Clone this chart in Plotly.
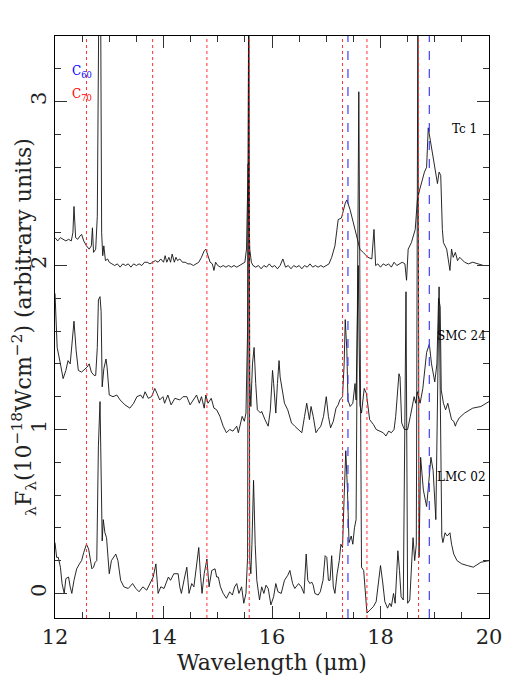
import plotly.graph_objects as go

# Tc 1 spectrum (offset +2)
tc1_wave = [12.0, 12.05, 12.1, 12.15, 12.2, 12.25, 12.3, 12.33, 12.35, 12.38, 12.42, 12.46, 12.49, 12.53,
            12.58, 12.63, 12.67, 12.69, 12.71, 12.75, 12.78, 12.81, 12.84, 12.86, 12.88, 12.9, 12.93, 12.97,
            13.0, 13.05, 13.1, 13.15, 13.2, 13.25, 13.3, 13.35, 13.4, 13.45, 13.5, 13.55, 13.6, 13.65, 13.7,
            13.75, 13.8, 13.85, 13.9, 13.95, 14.0, 14.03, 14.06, 14.1, 14.13, 14.16, 14.2, 14.23, 14.26, 14.3,
            14.35, 14.4, 14.45, 14.5, 14.55, 14.6, 14.65, 14.7, 14.75, 14.78, 14.82, 14.86, 14.9, 14.93, 14.96,
            15.0, 15.05, 15.1, 15.15, 15.2, 15.25, 15.3, 15.35, 15.4, 15.45, 15.5, 15.53, 15.56, 15.59, 15.62,
            15.65, 15.7, 15.75, 15.8, 15.85, 15.9, 15.95, 16.0, 16.05, 16.1, 16.15, 16.2, 16.25, 16.3, 16.35,
            16.4, 16.45, 16.5, 16.55, 16.6, 16.65, 16.7, 16.75, 16.8, 16.85, 16.9, 16.95, 17.0, 17.05, 17.1,
            17.16, 17.22, 17.28, 17.35, 17.38, 17.44, 17.5, 17.56, 17.62, 17.68, 17.77, 17.84, 17.88, 17.91,
            17.95, 18.0, 18.05, 18.1, 18.15, 18.2, 18.25, 18.3, 18.35, 18.4, 18.45, 18.48, 18.51, 18.57, 18.64,
            18.68, 18.72, 18.77, 18.81, 18.85, 18.88, 18.92, 18.97, 19.01, 19.05, 19.08, 19.11, 19.14, 19.16,
            19.22, 19.28, 19.31, 19.34, 19.38, 19.42, 19.46, 19.55, 19.62, 19.7, 19.8, 19.9, 20.0]
tc1_flux = [2.17, 2.15, 2.17, 2.16, 2.15, 2.16, 2.15, 2.2, 2.36, 2.17, 2.16, 2.18, 2.19, 2.15,
            2.12, 2.10, 2.12, 2.23, 2.08, 2.10, 2.3, 3.7, 3.7, 2.2, 2.06, 2.12, 2.03, 2.04,
            2.02, 2.01, 2.00, 2.01, 1.99, 2.01, 2.0, 2.01, 1.99, 2.01, 2.0, 2.01, 2.0, 2.02, 2.02,
            2.01, 2.02, 2.03, 2.02, 2.04, 2.02, 2.06, 2.02, 2.05, 2.02, 2.07, 2.02, 2.05, 2.03, 2.04,
            2.02, 2.02, 2.01, 2.01, 2.0, 2.01, 2.02, 2.05, 2.09, 2.10, 2.06, 2.02, 2.01, 1.97, 2.02,
            2.0, 1.99, 2.0, 1.99, 2.0, 1.99, 2.0, 1.99, 2.0, 2.01, 2.02, 2.1, 2.62, 2.1, 2.02,
            2.0, 1.99, 2.0, 1.98, 2.0, 1.99, 2.01, 1.99, 2.0, 1.98, 2.0, 2.04, 1.99, 2.0, 1.98,
            2.0, 1.99, 2.0, 1.98, 2.0, 1.99, 2.01, 1.99, 2.0, 1.99, 2.0, 1.99, 2.0, 2.01, 2.05,
            2.12, 2.28, 2.29, 2.38, 2.40, 2.34, 2.26, 2.18, 2.10, 2.08, 2.05, 2.04, 2.22, 2.0,
            2.01, 1.99, 2.01, 2.0, 2.01, 1.99, 2.02, 2.0, 2.01, 2.02, 2.01, 1.91, 2.10, 2.14, 2.22,
            2.40, 2.46, 2.52, 2.57, 2.60, 2.84, 2.76, 2.66, 2.58, 2.50, 2.57, 2.55, 2.22, 2.14,
            2.10, 1.97, 2.10, 2.05, 2.08, 2.03, 2.05, 2.02, 2.01, 2.02, 2.01, 2.0, 2.0]

# SMC 24 spectrum (offset +1)
smc24_wave = [12.0, 12.02, 12.04, 12.1, 12.15, 12.2, 12.24, 12.28, 12.33, 12.35, 12.39, 12.43, 12.49, 12.55,
              12.59, 12.63, 12.67, 12.72, 12.75, 12.78, 12.8, 12.83, 12.85, 12.87, 12.9, 12.94, 12.96, 13.0,
              13.07, 13.14, 13.2, 13.29, 13.38, 13.45, 13.51, 13.58, 13.62, 13.66, 13.72, 13.78, 13.84, 13.88,
              13.93, 13.99, 14.02, 14.08, 14.14, 14.21, 14.3, 14.36, 14.43, 14.49, 14.58, 14.61, 14.66, 14.7,
              14.75, 14.78, 14.82, 14.88, 14.93, 14.98, 15.04, 15.1, 15.16, 15.22, 15.28, 15.35, 15.38, 15.41,
              15.45, 15.49, 15.52, 15.55, 15.57, 15.59, 15.61, 15.64, 15.67, 15.7, 15.73, 15.79, 15.81, 15.87,
              15.93, 15.97, 16.01, 16.03, 16.07, 16.1, 16.13, 16.15, 16.2, 16.23, 16.29, 16.32, 16.36, 16.42,
              16.48, 16.55, 16.6, 16.64, 16.69, 16.72, 16.76, 16.81, 16.85, 16.9, 16.95, 17.0, 17.04, 17.08,
              17.13, 17.18, 17.22, 17.25, 17.3, 17.33, 17.35, 17.38, 17.4, 17.44, 17.49, 17.53, 17.55, 17.59,
              17.62, 17.65, 17.7, 17.74, 17.8, 17.87, 17.92, 18.0, 18.05, 18.1, 18.15, 18.2, 18.25, 18.28,
              18.31, 18.34, 18.36, 18.39, 18.44, 18.5, 18.55, 18.62, 18.65, 18.68, 18.73, 18.78, 18.85, 18.9,
              18.94, 18.97, 19.0, 19.04, 19.07, 19.1, 19.12, 19.16, 19.2, 19.24, 19.28, 19.31, 19.35, 19.38,
              19.4, 19.45, 19.55, 19.7, 19.85, 20.0]
smc24_flux = [1.83, 1.65, 1.50, 1.40, 1.31, 1.36, 1.42, 1.40, 1.59, 1.66, 1.48, 1.36, 1.35, 1.37,
              1.38, 1.40, 1.35, 1.33, 1.33, 1.5, 1.79, 1.81, 1.72, 1.26, 1.37, 1.43, 1.38, 1.21,
              1.20, 1.21, 1.18, 1.15, 1.13, 1.16, 1.20, 1.21, 1.19, 1.23, 1.19, 1.20, 1.25, 1.22,
              1.18, 1.20, 1.16, 1.21, 1.15, 1.19, 1.18, 1.20, 1.20, 1.15, 1.19, 1.21, 1.16, 1.20,
              1.13, 1.21, 1.16, 1.19, 1.13, 1.12, 1.08, 1.02, 0.98, 1.00, 0.99, 1.02, 0.98, 1.03,
              1.08, 1.05, 1.10, 1.6, 3.7, 1.3, 1.14, 1.40, 1.50, 1.28, 1.12, 1.10, 1.11, 1.06,
              1.02, 1.12, 1.36, 1.28, 1.10, 1.28, 1.42, 1.32, 1.20, 1.16, 1.12, 1.08, 1.04, 1.02,
              1.00, 0.98, 1.08, 1.16, 1.06, 1.14, 1.08, 0.98, 1.00, 1.02, 1.08, 1.20, 1.08, 1.01,
              1.05, 1.13, 1.15, 1.18, 1.20, 1.40, 1.67, 1.48, 1.18, 1.14, 1.16, 1.28, 1.18, 2.0,
              1.15, 1.10, 1.25, 1.22, 1.06, 1.03, 1.00, 0.99, 0.98, 0.96, 0.99, 0.98, 1.00, 1.08,
              1.20, 1.34, 1.32, 1.04, 1.00, 1.0, 1.08, 1.20, 1.16, 1.23, 1.16, 1.25, 1.47, 1.52,
              1.40, 1.33, 1.29, 1.40, 1.80, 1.75, 1.24, 1.16, 1.12, 1.16, 1.10, 1.06, 1.05, 1.02,
              1.04, 1.07, 1.10, 1.13, 1.14, 1.17]

# LMC 02 spectrum
lmc02_wave = [12.0, 12.03, 12.06, 12.1, 12.13, 12.17, 12.2, 12.25, 12.28, 12.31, 12.35, 12.4, 12.45, 12.49,
              12.53, 12.58, 12.62, 12.68, 12.71, 12.74, 12.77, 12.8, 12.83, 12.85, 12.87, 12.89, 12.92, 12.95,
              13.0, 13.04, 13.08, 13.12, 13.16, 13.21, 13.27, 13.35, 13.43, 13.49, 13.55, 13.62, 13.69, 13.75,
              13.81, 13.86, 13.9, 13.95, 14.01, 14.09, 14.13, 14.19, 14.27, 14.3, 14.33, 14.39, 14.43, 14.47,
              14.52, 14.56, 14.61, 14.65, 14.68, 14.71, 14.75, 14.8, 14.84, 14.89, 14.95, 14.98, 15.01, 15.05,
              15.1, 15.16, 15.22, 15.27, 15.31, 15.35, 15.39, 15.44, 15.48, 15.52, 15.55, 15.57, 15.59, 15.61,
              15.63, 15.66, 15.69, 15.72, 15.77, 15.81, 15.85, 15.89, 15.93, 15.98, 16.03, 16.07, 16.11, 16.17,
              16.23, 16.29, 16.33, 16.38, 16.42, 16.49, 16.54, 16.59, 16.63, 16.66, 16.7, 16.73, 16.76, 16.79,
              16.85, 16.89, 16.94, 16.98, 17.01, 17.04, 17.07, 17.1, 17.13, 17.16, 17.2, 17.24, 17.27, 17.3,
              17.33, 17.36, 17.39, 17.42, 17.46, 17.49, 17.52, 17.55, 17.6, 17.65, 17.69, 17.75, 17.81, 17.87,
              17.92, 17.96, 18.0, 18.04, 18.08, 18.13, 18.17, 18.2, 18.24, 18.27, 18.32, 18.35, 18.38, 18.42,
              18.47, 18.5, 18.54, 18.58, 18.6, 18.63, 18.66, 18.69, 18.71, 18.74, 18.79, 18.85, 18.9, 18.93,
              18.97, 19.02, 19.08, 19.13, 19.15, 19.19, 19.23, 19.28, 19.31, 19.35, 19.41, 19.5, 19.6, 19.71,
              19.85, 20.0]
lmc02_flux = [0.31, 0.22, 0.22, 0.16, 0.06, 0.0, 0.09, 0.10, 0.04, 0.0, 0.08, 0.15, 0.18, 0.20,
              0.25, 0.30, 0.27, 0.15, 0.16, 0.19, 0.2, 0.9, 1.17, 0.6, 0.32, 0.45, 0.37, 0.34,
              0.12, 0.20, 0.22, 0.24, 0.20, 0.08, 0.04, 0.03, 0.06, 0.03, 0.01, 0.04, 0.02, 0.06,
              0.10, 0.18, 0.0, 0.04, 0.03, 0.10, 0.08, 0.12, 0.12, 0.04, 0.0, 0.10, 0.16, 0.0,
              0.06, 0.04, 0.19, 0.28, 0.12, 0.0, 0.12, 0.21, 0.04, 0.14, 0.15, 0.10, 0.10, 0.04,
              0.0, -0.03, 0.01, -0.01, 0.04, 0.06, 0.0, 0.04, -0.06, 0.0, 0.22, 3.7, 0.2, 0.12,
              0.3, 0.69, 0.3, 0.08, -0.04, 0.04, 0.0, 0.05, 0.03, -0.07, -0.02, 0.06, 0.01, 0.0,
              0.08, 0.11, 0.14, 0.06, 0.03, 0.06, 0.04, 0.0, 0.24, 0.08, 0.06, 0.07, 0.05, 0.0,
              -0.01, 0.01, 0.08, 0.23, 0.22, 0.08, 0.08, 0.23, 0.04, 0.0, 0.12, 0.2, 0.30, 0.28,
              0.59, 0.87, 0.64, 0.31, 0.35, 0.30, 0.40, 0.45, 3.06, 0.16, 0.14, -0.12, -0.10, -0.08,
              -0.05, 0.07, 0.17, 0.07, -0.05, -0.09, -0.06, -0.08, 0.0, -0.06, 0.26, 0.14, -0.02, -0.04,
              1.84, -0.06, -0.04, 0.22, 0.34, 0.20, 0.30, 3.7, 0.22, 0.83, 0.63, 0.53, 0.69, 0.83,
              0.75, 0.45, 1.87, 0.35, 0.31, 0.37, 0.35, 0.37, 0.30, 0.24, 0.20, 0.18, 0.17, 0.16,
              0.19, 0.20]

spec_names = ["Tc 1", "SMC 24", "LMC 02"]
label_x = [19.82, 19.98, 19.98]
label_y = [2.83, 1.57, 0.71]

c60_bands = [17.4, 18.9]
c70_bands = [12.58, 13.8, 14.8, 15.58, 17.3, 17.75, 18.7]

FONT = "DejaVu Serif"

fig = go.Figure()

for w in c70_bands:
    fig.add_vline(x=w, line=dict(color="#ff3030", width=1, dash="dot"))
for w in c60_bands:
    fig.add_vline(x=w, line=dict(color="#4040ff", width=1.2, dash="dash"))

for wave, flux, name in [(tc1_wave, tc1_flux, spec_names[0]),
                         (smc24_wave, smc24_flux, spec_names[1]),
                         (lmc02_wave, lmc02_flux, spec_names[2])]:
    fig.add_trace(go.Scatter(x=wave, y=flux, mode="lines", name=name,
                             line=dict(color="#111111", width=0.9)))

for name, lx, ly in zip(spec_names, label_x, label_y):
    fig.add_annotation(x=lx, y=ly, text=name, showarrow=False, xanchor="right",
                       font=dict(family=FONT, size=12, color="black"))

fig.add_annotation(x=12.28, y=3.18, text="C<sub>60</sub>", showarrow=False, xanchor="left",
                   font=dict(family=FONT, size=12, color="blue"))
fig.add_annotation(x=12.28, y=3.04, text="C<sub>70</sub>", showarrow=False, xanchor="left",
                   font=dict(family=FONT, size=12, color="red"))

axis_common = dict(showgrid=False, zeroline=False, showline=True, linecolor="black", linewidth=1,
                   mirror="ticks", ticks="inside", tickcolor="#333333", tickwidth=1, ticklen=12,
                   automargin=False,
                   tickfont=dict(family=FONT, size=21, color="#222222"))

fig.update_xaxes(range=[12, 20], dtick=2, tick0=12,
                 minor=dict(dtick=0.5, ticks="inside", ticklen=6, tickcolor="#333333"),
                 title=dict(text="Wavelength (μm)", font=dict(family=FONT, size=22, color="#222222"),
                            standoff=6),
                 **axis_common)
fig.update_yaxes(range=[-0.15, 3.4], dtick=1, tick0=0, tickangle=-90,
                 minor=dict(dtick=0.2, ticks="inside", ticklen=6, tickcolor="#333333"),
                 title=dict(text="<sub>λ</sub>F<sub>λ</sub>(10<sup>−18</sup>Wcm<sup>−2</sup>) (arbitrary units)",
                            font=dict(family=FONT, size=22, color="#222222"), standoff=2),
                 **axis_common)

fig.update_layout(width=509, height=680, showlegend=False,
                  paper_bgcolor="white", plot_bgcolor="white",
                  margin=dict(l=47, r=28, t=28, b=70))

fig.write_html("out.html")
